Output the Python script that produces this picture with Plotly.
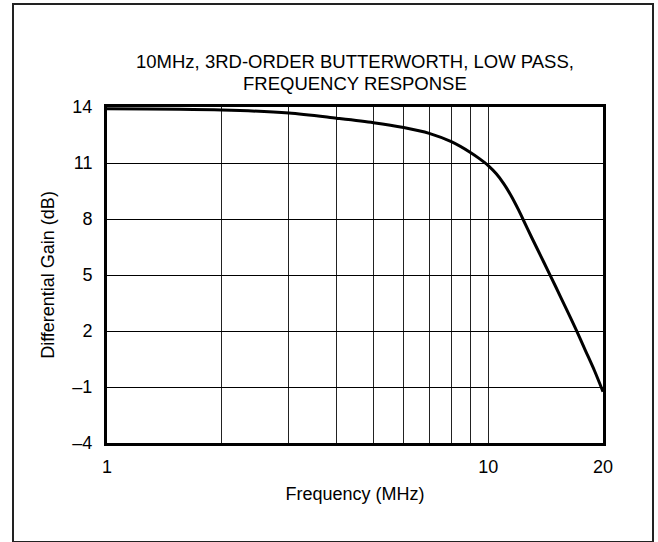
import plotly.graph_objects as go

# Frequency response of a 10MHz 3rd-order Butterworth low-pass filter
freq_mhz = [1, 2, 3, 4, 5, 6, 7, 8, 9, 9.5, 10, 10.5, 11, 11.5, 12, 12.3,
            13, 14, 15, 16, 17, 18, 19, 20]
gain_db = [13.9, 13.84, 13.68, 13.4, 13.16, 12.9, 12.59, 12.14, 11.55, 11.22,
           10.86, 10.42, 9.87, 9.22, 8.5, 8.04, 7.01, 5.67, 4.41, 3.21,
           2.07, 0.94, -0.13, -1.25]

y_ticks = [14, 11, 8, 5, 2, -1, -4]
y_ticktext = ["14", "11", "8", "5", "2", "\u20131", "\u20134"]
x_grid = [1, 2, 3, 4, 5, 6, 7, 8, 9, 10, 20]
x_ticktext = ["1", "", "", "", "", "", "", "", "", "10", "20"]

FONT = "Liberation Sans, Arial, sans-serif"

fig = go.Figure()
fig.add_trace(go.Scatter(
    x=freq_mhz, y=gain_db, mode="lines",
    line=dict(color="black", width=3, shape="spline", smoothing=0.8),
    hoverinfo="skip", showlegend=False,
))

fig.update_layout(
    width=658, height=542,
    margin=dict(l=107, r=55, t=107, b=99),
    paper_bgcolor="white", plot_bgcolor="white",
    font=dict(family=FONT, size=18, color="black"),
    xaxis=dict(
        type="log", range=[0, 1.30103],
        tickvals=x_grid, ticktext=x_ticktext,
        showgrid=True, gridcolor="#222", gridwidth=1,
        showline=True, linecolor="black", linewidth=3, mirror=True,
        ticks="", ticklabelstandoff=5,
        title=dict(text="Frequency (MHz)", standoff=12, font=dict(size=18)),
        zeroline=False,
    ),
    yaxis=dict(
        range=[-4, 14], tickvals=y_ticks, ticktext=y_ticktext,
        showgrid=True, gridcolor="black", gridwidth=1,
        showline=True, linecolor="black", linewidth=3, mirror=True,
        ticks="", ticklabelstandoff=8,
        title=dict(text="Differential Gain (dB)", standoff=14, font=dict(size=18)),
        zeroline=False,
    ),
    annotations=[
        dict(text="10MHz, 3RD-ORDER BUTTERWORTH, LOW PASS,", x=0.5, xref="paper",
             y=61, yref="paper", showarrow=False, font=dict(size=18.5)),
        dict(text="FREQUENCY RESPONSE", x=0.5, xref="paper",
             y=83, yref="paper", showarrow=False, font=dict(size=18.5)),
    ],
    shapes=[
        dict(type="rect", xref="paper", yref="paper",
             x0=(13 - 107) / 496, x1=(653 - 107) / 496,
             y0=(443 - 542) / 336, y1=(443 - 4) / 336,
             line=dict(color="#222", width=2)),
    ],
)

# annotation y positions given in pixels from the top; convert to paper units
for ann in fig.layout.annotations:
    ann.y = (443 - ann.y) / 336
    ann.yanchor = "middle"

fig.write_html("out.html")
